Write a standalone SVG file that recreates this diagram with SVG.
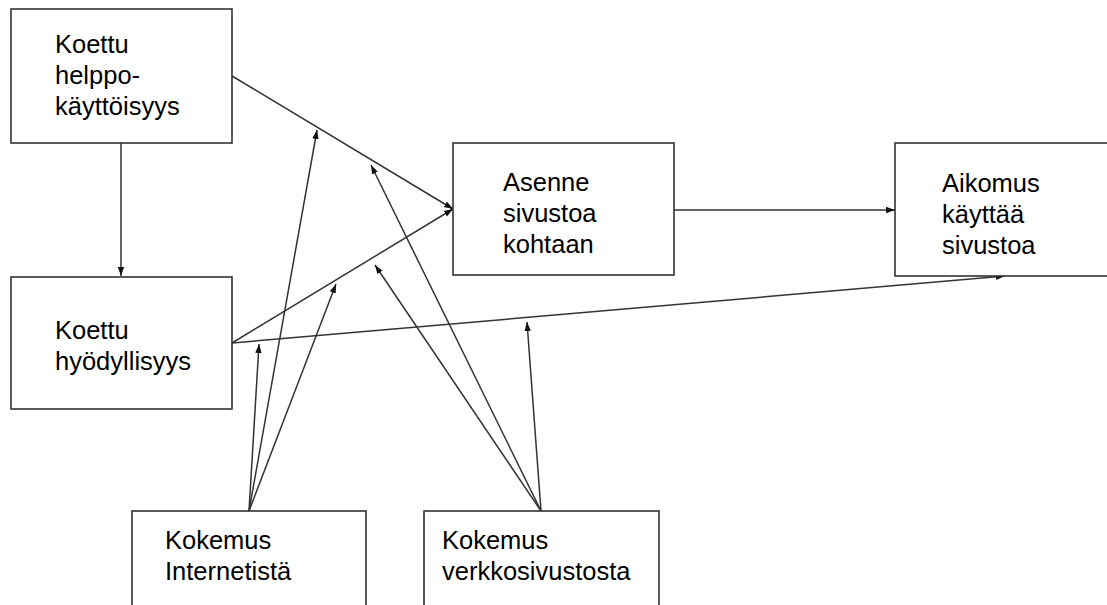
<svg xmlns="http://www.w3.org/2000/svg" width="1107" height="605" viewBox="0 0 1107 605">
<style>
.box{fill:#fff;stroke:#333;stroke-width:1.6}
.t{font-family:"Liberation Sans",Arial,sans-serif;font-size:25.5px;fill:#000}
.c{stroke:#333;stroke-width:1.5;fill:none;marker-end:url(#ah)}
</style>
<defs>
<marker id="ah" markerUnits="userSpaceOnUse" markerWidth="10" markerHeight="8" refX="9" refY="4" orient="auto">
<path d="M0,0.8 L9,4 L0,7.2 Z" fill="#111"/>
</marker>
</defs>
<rect width="1107" height="605" fill="#fff"/>
<g id="connectors">
<line class="c" x1="121" y1="143" x2="121" y2="276"/>
<line class="c" x1="232" y1="76" x2="453" y2="209"/>
<line class="c" x1="232" y1="343" x2="453" y2="209"/>
<line class="c" x1="232" y1="343" x2="1005" y2="276"/>
<line class="c" x1="674" y1="210" x2="895" y2="210"/>
<line class="c" x1="249" y1="511" x2="259" y2="344"/>
<line class="c" x1="249" y1="511" x2="317" y2="130"/>
<line class="c" x1="249" y1="511" x2="336" y2="284"/>
<line class="c" x1="541" y1="511" x2="371" y2="165"/>
<line class="c" x1="541" y1="511" x2="375" y2="265"/>
<line class="c" x1="541" y1="511" x2="527" y2="322"/>
</g>
<g id="n1">
<rect class="box" x="11" y="9" width="221" height="134"/>
<text class="t" x="55" y="53">Koettu</text>
<text class="t" x="55" y="84">helppo-</text>
<text class="t" x="55" y="115">käyttöisyys</text>
</g>
<g id="n2">
<rect class="box" x="11" y="277" width="221" height="132"/>
<text class="t" x="55" y="339">Koettu</text>
<text class="t" x="55" y="370">hyödyllisyys</text>
</g>
<g id="n3">
<rect class="box" x="453" y="143" width="221" height="132"/>
<text class="t" x="503" y="191">Asenne</text>
<text class="t" x="503" y="222">sivustoa</text>
<text class="t" x="503" y="253">kohtaan</text>
</g>
<g id="n4">
<rect class="box" x="895" y="143" width="220" height="133"/>
<text class="t" x="942" y="192">Aikomus</text>
<text class="t" x="942" y="223">käyttää</text>
<text class="t" x="942" y="254">sivustoa</text>
</g>
<g id="n5">
<rect class="box" x="132" y="511" width="234" height="110"/>
<text class="t" x="165" y="549">Kokemus</text>
<text class="t" x="165" y="580">Internetistä</text>
</g>
<g id="n6">
<rect class="box" x="424" y="511" width="235" height="110"/>
<text class="t" x="442" y="549">Kokemus</text>
<text class="t" x="442" y="580">verkkosivustosta</text>
</g>
</svg>
